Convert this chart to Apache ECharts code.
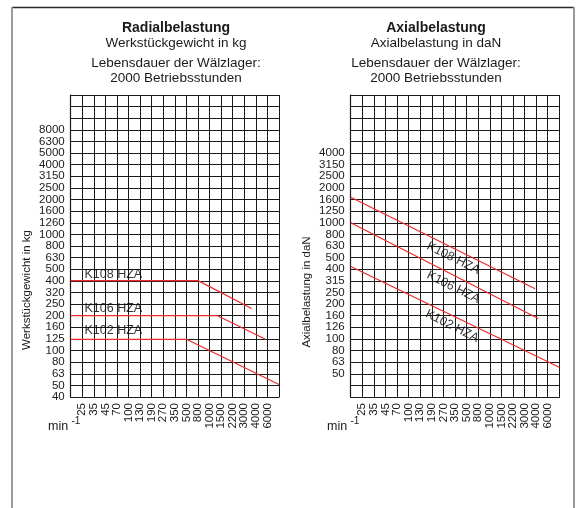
<!DOCTYPE html>
<html>
<head>
<meta charset="utf-8">
<script src="https://cdn.jsdelivr.net/npm/echarts@6/dist/echarts.min.js"></script>
<style>
html,body{margin:0;padding:0;background:#fff;}
#c{width:576px;height:508px;}
</style>
</head>
<body>
<div id="c"></div>
<script>
// ---- data ----
const rpmTicks = ['25','35','45','70','100','130','190','270','350','500','800','1000','1500','2200','3000','4000','6000'];
const radialTicks = ['40','50','63','80','100','125','160','200','250','320','400','500','630','800','1000','1260','1600','2000','2500','3150','4000','5000','6300','8000'];
const axialTicks = ['50','63','80','100','126','160','200','250','315','400','500','630','800','1000','1250','1600','2000','2500','3150','4000'];

const seriesNames = ['K108 HZA', 'K106 HZA', 'K102 HZA'];

// Radialbelastung (kg) vs rpm
const k108RadialRpm = [17.9, 800, 3600];
const k108RadialKg  = [400, 400, 230];
const k106RadialRpm = [17.9, 1300, 5600];
const k106RadialKg  = [200, 200, 125];
const k102RadialRpm = [17.9, 500, 9000];
const k102RadialKg  = [125, 125, 51];

// Axialbelastung (daN) vs rpm
const k108AxialRpm = [17.9, 3900];
const k108AxialDaN = [1660, 270];
const k106AxialRpm = [17.9, 4300];
const k106AxialDaN = [1000, 150];
const k102AxialRpm = [17.9, 9000];
const k102AxialDaN = [420, 57];

// ---- scale helpers (axis transforms) ----
const tv = rpmTicks.map(Number);
function rpmToPos(r) {
  const n = tv.length;
  if (r <= tv[0]) return 1 + Math.log(r / tv[0]) / Math.log(tv[1] / tv[0]);
  if (r >= tv[n - 1]) return n + Math.log(r / tv[n - 1]) / Math.log(tv[n - 1] / tv[n - 2]);
  for (let i = 0; i < n - 1; i++) {
    if (r >= tv[i] && r <= tv[i + 1]) return i + 1 + Math.log(r / tv[i]) / Math.log(tv[i + 1] / tv[i]);
  }
}
const dB = v => 10 * Math.log10(v);
const pts = (xs, ys) => xs.map((x, i) => [rpmToPos(x), dB(ys[i])]);

const FONT = "'Liberation Sans', Arial, sans-serif";
const INK = '#1a1a1a';
const RED = '#ee2a2a';
const ROWS = 26;

function xAxis(gi) {
  return {
    type: 'value', gridIndex: gi, min: 0, max: 18, interval: 1,
    axisLine: { show: true, lineStyle: { color: INK, width: 1.2 } },
    axisTick: { show: false },
    splitLine: { show: true, lineStyle: { color: INK, width: 1 } },
    axisLabel: {
      rotate: 90, margin: 6, fontSize: 11.5, color: INK, fontFamily: FONT,
      formatter: v => rpmTicks[Math.round(v) - 1] || ''
    }
  };
}
// visible row axis: one category per grid row line (labels + grid lines)
function rowAxis(gi, min, ticks) {
  const cats = Array.from({ length: ROWS + 1 }, (_, i) =>
    ticks.find(t => Math.round(dB(+t)) === min + i) || '');
  return {
    type: 'category', gridIndex: gi, data: cats, boundaryGap: false,
    axisLine: { show: true, lineStyle: { color: INK, width: 1.2 } },
    axisTick: { show: false },
    splitLine: { show: true, interval: 0, lineStyle: { color: INK, width: 1 } },
    axisLabel: { interval: 0, margin: 6, fontSize: 11.5, color: INK, fontFamily: FONT }
  };
}
// hidden value axis (log load in dB units) carrying the data
function valueAxis(gi, min) {
  return { type: 'value', gridIndex: gi, min: min, max: min + ROWS, interval: 1, show: false };
}

function lineSeries(gi, name, data) {
  return {
    type: 'line', name: name, xAxisIndex: gi, yAxisIndex: gi * 2 + 1, data: data,
    symbol: 'none', silent: true, animation: false,
    lineStyle: { color: RED, width: 1.2 }
  };
}

function labelSeries(gi, anchors, labelOpts) {
  return {
    type: 'scatter', xAxisIndex: gi, yAxisIndex: gi * 2 + 1, silent: true, animation: false, z: 5,
    symbolSize: 1, itemStyle: { color: 'rgba(0,0,0,0)' },
    data: anchors.map((p, i) => ({
      value: p,
      label: Object.assign({ show: true, formatter: seriesNames[i], fontSize: 12.5,
                             color: '#000', textBorderWidth: 0, fontFamily: FONT }, labelOpts)
    }))
  };
}

// label anchors (axis space) for the series names
const radialLabelAnchors = [[1.15, 26.5], [1.15, 23.6], [1.15, 21.7]];
const axialLabelAnchors = [[8.85, 26.95], [8.85, 24.45], [8.75, 21.1]];

const chart = echarts.init(document.getElementById('c'), null, { renderer: 'canvas' });

const titleText = (x, y, text, size, bold) => ({
  type: 'text', x: x, y: y,
  style: { text: text, fontSize: size, fontWeight: bold ? 'bold' : 'normal', fontFamily: FONT,
           fill: INK, align: 'center', verticalAlign: 'middle' }
});

const option = {
  animation: false,
  backgroundColor: '#fff',
  grid: [
    { left: 70.7, top: 95, width: 208.3, height: 302 },
    { left: 350.7, top: 95, width: 208.6, height: 302 }
  ],
  xAxis: [xAxis(0), xAxis(1)],
  yAxis: [rowAxis(0, 16, radialTicks), valueAxis(0, 16), rowAxis(1, 15, axialTicks), valueAxis(1, 15)],
  series: [
    lineSeries(0, seriesNames[0], pts(k108RadialRpm, k108RadialKg)),
    lineSeries(0, seriesNames[1], pts(k106RadialRpm, k106RadialKg)),
    lineSeries(0, seriesNames[2], pts(k102RadialRpm, k102RadialKg)),
    lineSeries(1, seriesNames[0], pts(k108AxialRpm, k108AxialDaN)),
    lineSeries(1, seriesNames[1], pts(k106AxialRpm, k106AxialDaN)),
    lineSeries(1, seriesNames[2], pts(k102AxialRpm, k102AxialDaN)),
    labelSeries(0, radialLabelAnchors, { position: 'right', distance: 0 }),
    labelSeries(1, axialLabelAnchors, { position: 'inside', rotate: -26.5 })
  ],
  graphic: [
    { type: 'line', shape: { x1: 12, y1: 7.5, x2: 574, y2: 7.5 }, style: { stroke: '#2a2a2a', lineWidth: 1.5 } },
    { type: 'line', shape: { x1: 12, y1: 7, x2: 12, y2: 508 }, style: { stroke: '#9a9a9a', lineWidth: 2 } },
    { type: 'line', shape: { x1: 574, y1: 7, x2: 574, y2: 508 }, style: { stroke: '#9a9a9a', lineWidth: 2 } },
    titleText(176, 28, 'Radialbelastung', 14, true),
    titleText(176, 43, 'Werkstückgewicht in kg', 13.5),
    titleText(176, 63, 'Lebensdauer der Wälzlager:', 13.5),
    titleText(176, 78, '2000 Betriebsstunden', 13.5),
    titleText(436, 28, 'Axialbelastung', 14, true),
    titleText(436, 43, 'Axialbelastung in daN', 13.5),
    titleText(436, 63, 'Lebensdauer der Wälzlager:', 13.5),
    titleText(436, 78, '2000 Betriebsstunden', 13.5),
    { type: 'text', x: 27, y: 290, rotation: Math.PI / 2,
      style: { text: 'Werkstückgewicht in kg', fontSize: 11.5, fontFamily: FONT, fill: INK, align: 'center', verticalAlign: 'middle' } },
    { type: 'text', x: 307, y: 292, rotation: Math.PI / 2,
      style: { text: 'Axialbelastung in daN', fontSize: 11.5, fontFamily: FONT, fill: INK, align: 'center', verticalAlign: 'middle' } },
    { type: 'text', x: 48, y: 427, style: { text: 'min', fontSize: 12.5, fontFamily: FONT, fill: INK, verticalAlign: 'middle' } },
    { type: 'text', x: 71.5, y: 421.5, style: { text: '-1', fontSize: 10, fontFamily: FONT, fill: INK, verticalAlign: 'middle' } },
    { type: 'text', x: 327, y: 427, style: { text: 'min', fontSize: 12.5, fontFamily: FONT, fill: INK, verticalAlign: 'middle' } },
    { type: 'text', x: 350.5, y: 421.5, style: { text: '-1', fontSize: 10, fontFamily: FONT, fill: INK, verticalAlign: 'middle' } }
  ]
};
chart.setOption(option);
</script>
</body>
</html>
